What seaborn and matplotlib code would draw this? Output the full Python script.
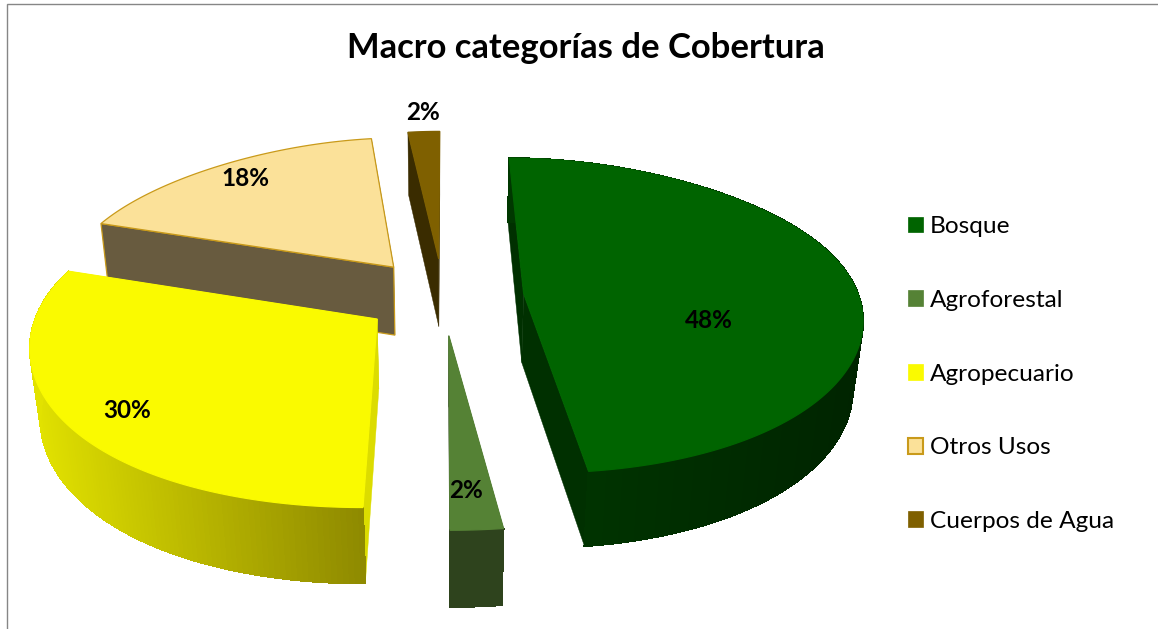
import numpy as np
import matplotlib
matplotlib.use("Agg")
import matplotlib.pyplot as plt
from matplotlib.patches import Polygon, Patch
from matplotlib.colors import to_rgb
import seaborn as sns

# ---- data ----
categories = ["Bosque", "Agroforestal", "Agropecuario", "Otros Usos", "Cuerpos de Agua"]
values = [48, 2, 30, 18, 2]
title = "Macro categorías de Cobertura"

# ---- style ----
top_colors = ["#006400", "#558235", "#FAFA00", "#FBE199", "#7F6000"]
wall_colors = ["#003000", "#2E431D", "#DCDC00", "#685B3F", "#3A2C00"]
side_from = ["#003800", "#2E431D", "#E2E200", "#685B3F", "#3A2C00"]
side_to = ["#002400", "#2E431D", "#8F8A00", "#685B3F", "#3A2C00"]
edge_colors = ["#006400", "#558235", "#FAFA00", "#C99A1A", "#7F6000"]
draw_order = [4, 3, 0, 2, 1]

sns.set_theme(style="white")
plt.rcParams["font.family"] = ["Lato", "DejaVu Sans"]

W, H = 1158, 629
fig = plt.figure(figsize=(W / 100, H / 100), dpi=100)
ax = fig.add_axes([0, 0, 1, 1])
ax.set_xlim(0, W)
ax.set_ylim(H, 0)
ax.axis("off")

# ---- projection of the exploded 3-D pie onto the canvas ----
CX, CY, RX, RY, DEPTH = 443.6, 296.0, 335.0, 155.0, 69.0
PERSP_X, PERSP_Y, PERSP_Z, DROP = 0.14, 0.14, 0.08, 0.025
EXPLODE_X, EXPLODE_Y = 0.24, 0.248


def proj(x, y, z):
    bend = (0.076 if y > 0 else 0.022) * y ** 3
    wx = 1 + PERSP_X * y + bend + DROP * z
    wy = 1 + PERSP_Y * y
    wz = 1 + PERSP_Z * y
    return CX + RX * x / wx, CY - RY * y / wy + DEPTH * z / wz


fractions = np.array(values, dtype=float) / sum(values)
ends = np.cumsum(fractions) * 2 * np.pi
starts = ends - fractions * 2 * np.pi


def flat(points, fc, ec, lw=0.0, zorder=1, aa=True):
    ax.add_patch(Polygon(points, closed=True, facecolor=fc,
                         edgecolor=ec, linewidth=lw, antialiased=aa,
                         zorder=zorder, joinstyle="miter"))


z = 1
for i in draw_order:
    a0, a1 = starts[i], ends[i]
    mid = (a0 + a1) / 2
    ox, oy = EXPLODE_X * np.sin(mid), EXPLODE_Y * np.cos(mid)
    th = np.linspace(a0, a1, max(int((a1 - a0) * 70), 6))
    xs, ys = ox + np.sin(th), oy + np.cos(th)

    # radial walls; the outlined one goes last
    for a in (a1, a0):
        rx, ry = ox + np.sin(a), oy + np.cos(a)
        outlined = i == 3 and a == a0
        flat([proj(ox, oy, 0), proj(rx, ry, 0), proj(rx, ry, 1), proj(ox, oy, 1)],
             wall_colors[i], edge_colors[i] if outlined else wall_colors[i],
             0.9 if outlined else 0.3, z)
        z += 1

    # curved outer wall as shaded strips
    c0, c1 = np.array(to_rgb(side_from[i])), np.array(to_rgb(side_to[i]))
    sx_all = np.array([proj(a, b, 1)[0] for a, b in zip(xs, ys)])
    lo, hi = sx_all.min(), sx_all.max()
    for k in range(len(th) - 1):
        if i in (3, 4):
            continue  # those outer walls face away from the viewer
        t = (sx_all[k] - lo) / max(hi - lo, 1)
        col = tuple(c0 + (c1 - c0) * t)
        flat([proj(xs[k], ys[k], 0), proj(xs[k + 1], ys[k + 1], 0),
              proj(xs[k + 1], ys[k + 1], 1), proj(xs[k], ys[k], 1)],
             col, col, 0.7, z, aa=False)
    z += 1

    # top face
    pts = [proj(ox, oy, 0)] + [proj(a, b, 0) for a, b in zip(xs, ys)]
    flat(pts, top_colors[i], edge_colors[i], 0.9, z)
    z += 1

# ---- percentage labels ----
label_xy = [(709, 320), (466, 491), (127, 410), (245, 178), (423, 112)]
for (lx, ly), v in zip(label_xy, values):
    ax.text(lx, ly, f"{v}%", ha="center", va="center", fontsize=17.5,
            fontweight="bold", color="black", zorder=z + 1)

ax.text(585.5, 48, title, ha="center", va="center", fontsize=24.9,
        fontweight="bold", color="black", zorder=z + 1)

# ---- legend ----
handles = [Patch(facecolor=top_colors[i],
                 edgecolor=edge_colors[i] if i == 3 else top_colors[i],
                 linewidth=1.5 if i == 3 else 0.5) for i in range(len(categories))]
leg = ax.legend(handles, categories, loc="center left",
                bbox_to_anchor=(908 / W, 1 - 374 / H), frameon=False,
                fontsize=17.6, handlelength=0.62, handleheight=0.62,
                handletextpad=0.28, labelspacing=2.157, borderpad=0, borderaxespad=0)
for t in leg.get_texts():
    t.set_color("black")

# ---- chart-area border ----
ax.plot([6.5, 6.5, W], [H, 3.5, 3.5], color="#868686", lw=1.0, zorder=z + 2,
        solid_joinstyle="miter")

fig.savefig("out.png", dpi=100, facecolor="white")
